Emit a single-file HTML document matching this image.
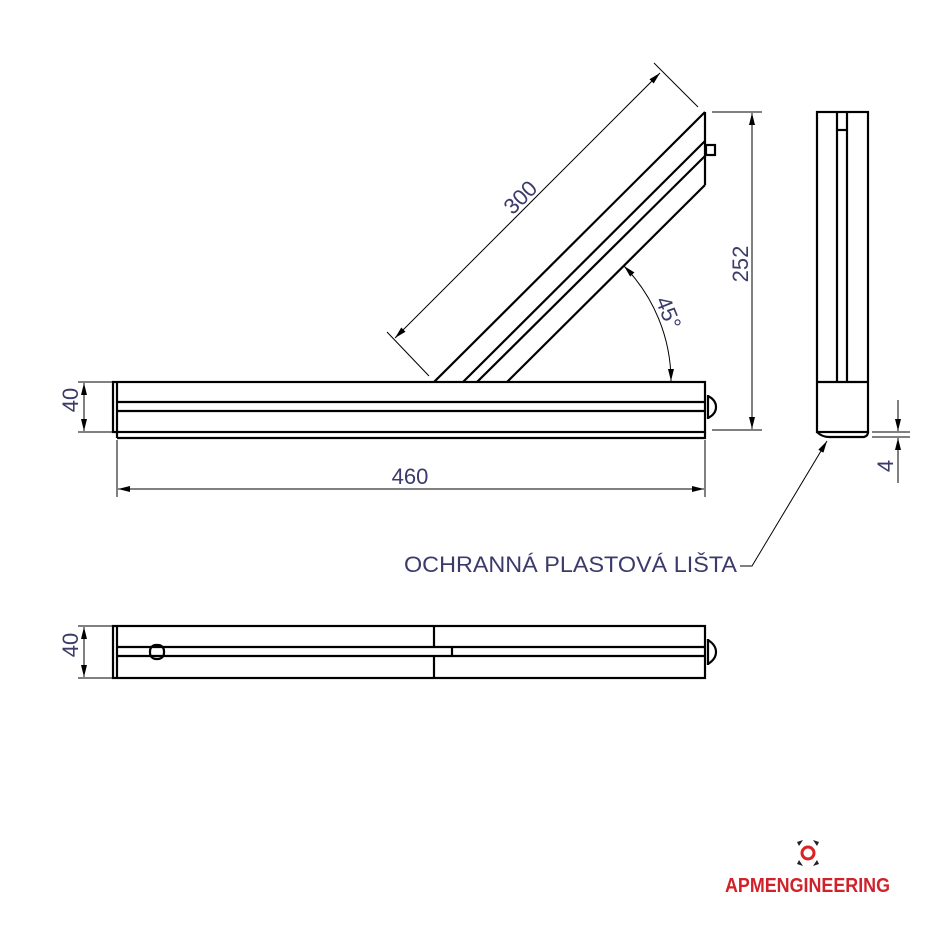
<!DOCTYPE html>
<html><head><meta charset="utf-8"><style>
html,body{margin:0;padding:0;background:#fff}
svg{display:block}
text{font-family:"Liberation Sans",sans-serif;fill:#3b3b6b}
</style></head><body>
<svg width="941" height="941" viewBox="0 0 941 941" xmlns="http://www.w3.org/2000/svg">
<defs>
<marker id="a" viewBox="0 0 12 6" refX="12" refY="3" markerWidth="12" markerHeight="6" orient="auto-start-reverse" markerUnits="userSpaceOnUse"><path d="M0,0 L12,3 L0,6 z" fill="#000"/></marker>
</defs>
<g stroke="#000" stroke-width="2.2" fill="none">
<rect x="113" y="382" width="592" height="50"/>
<line x1="117" y1="382" x2="117" y2="438"/>
<line x1="117" y1="402" x2="705" y2="402"/>
<line x1="117" y1="411" x2="705" y2="411"/>
<polyline points="117,438 705,438 705,432"/>
<path d="M708,395 L708,419 M708,396 Q716,400 716,407 Q716,414 708,418"/>
<line x1="705" y1="112" x2="434" y2="382"/>
<line x1="705" y1="141" x2="463" y2="382"/>
<line x1="705" y1="156" x2="477" y2="382"/>
<line x1="705" y1="185" x2="507" y2="382"/>
<line x1="705" y1="112" x2="705" y2="185"/>
<rect x="706" y="145" width="9" height="10"/>
<rect x="817" y="112" width="51" height="320"/>
<line x1="837" y1="112" x2="837" y2="382"/>
<line x1="847" y1="112" x2="847" y2="382"/>
<line x1="837" y1="130" x2="847" y2="130"/>
<line x1="817" y1="382" x2="868" y2="382"/>
<path d="M817,432 Q822,437 829,437 L864,437 Q868,436 868,432"/>
<rect x="113" y="626" width="592" height="52"/>
<line x1="117" y1="626" x2="117" y2="678"/>
<line x1="117" y1="647" x2="705" y2="647"/>
<line x1="117" y1="656" x2="705" y2="656"/>
<line x1="434" y1="626" x2="434" y2="647"/>
<line x1="434" y1="656" x2="434" y2="678"/>
<line x1="452" y1="647" x2="452" y2="656"/>
<rect x="150" y="645" width="14" height="14" rx="6"/>
<path d="M708,639 L708,665 M708,640 Q716,645 716,652 Q716,659 708,664"/>
</g>
<g stroke="#000" stroke-width="1" fill="none">
<line x1="395" y1="338" x2="660" y2="73" marker-start="url(#a)" marker-end="url(#a)"/>
<line x1="698" y1="107" x2="654" y2="63"/>
<line x1="429" y1="376" x2="387" y2="332"/>
<line x1="752" y1="113" x2="752" y2="429" marker-start="url(#a)" marker-end="url(#a)"/>
<line x1="712" y1="112" x2="762" y2="112"/>
<line x1="712" y1="430" x2="762" y2="430"/>
<path d="M624,266 A165,165 0 0 1 671,381" marker-start="url(#a)" marker-end="url(#a)"/>
<line x1="84" y1="383" x2="84" y2="431" marker-start="url(#a)" marker-end="url(#a)"/>
<line x1="78" y1="382" x2="112" y2="382"/>
<line x1="78" y1="432" x2="112" y2="432"/>
<line x1="118" y1="489" x2="704" y2="489" marker-start="url(#a)" marker-end="url(#a)"/>
<line x1="117" y1="440" x2="117" y2="497"/>
<line x1="705" y1="440" x2="705" y2="497"/>
<line x1="84" y1="627" x2="84" y2="677" marker-start="url(#a)" marker-end="url(#a)"/>
<line x1="78" y1="626" x2="112" y2="626"/>
<line x1="78" y1="678" x2="112" y2="678"/>
<line x1="872" y1="432" x2="910" y2="432"/>
<line x1="872" y1="437" x2="910" y2="437"/>
<line x1="898" y1="400" x2="898" y2="431" marker-end="url(#a)"/>
<line x1="898" y1="483" x2="898" y2="438" marker-end="url(#a)"/>
<polyline points="740,566 752,566 827,441" marker-end="url(#a)"/>
</g>
<text x="520" y="205" font-size="22" text-anchor="middle" transform="rotate(-45 520 197)">300</text>
<text x="747" y="279" font-size="22" text-anchor="middle" transform="rotate(-90 740 271)">252</text>
<text x="668" y="320" font-size="22" text-anchor="middle" transform="rotate(68 668 313)">45°</text>
<text x="77" y="415" font-size="22" text-anchor="middle" transform="rotate(-90 70 407)">40</text>
<text x="77" y="660" font-size="22" text-anchor="middle" transform="rotate(-90 70 652)">40</text>
<text x="410" y="484" font-size="22" text-anchor="middle">460</text>
<text x="893" y="480" font-size="22" text-anchor="middle" transform="rotate(-90 886 473)">4</text>
<text x="404" y="572" font-size="22" textLength="333" lengthAdjust="spacingAndGlyphs">OCHRANNÁ PLASTOVÁ LIŠTA</text>
<g>
<circle cx="808" cy="853" r="6" fill="none" stroke="#d22" stroke-width="3"/>
<path d="M797,842 L803,840 L799,846 Z M819,842 L813,840 L817,846 Z M797,864 L803,866 L799,860 Z M819,864 L813,866 L817,860 Z" fill="#222"/>
<text x="725" y="892" font-size="20" font-weight="bold" textLength="165" lengthAdjust="spacingAndGlyphs" style="fill:#d0222a">APMENGINEERING</text>
</g>
</svg>
</body></html>
